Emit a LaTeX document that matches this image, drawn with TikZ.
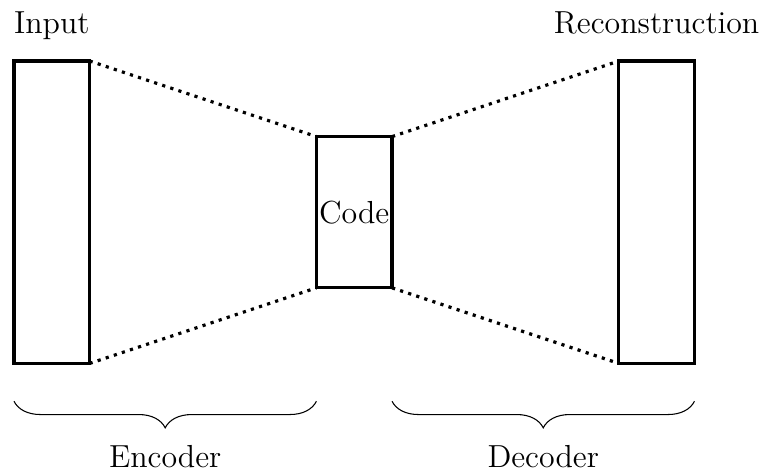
\documentclass[tikz,border=0pt]{standalone}
\usetikzlibrary{decorations.pathreplacing}
\begin{document}
\begin{tikzpicture}[
  layer/.style={draw, very thick, inner sep=0pt, outer sep=0pt, minimum width=1cm, font=\large},
  link/.style={very thick, dotted},
  span/.style={decorate, decoration={brace, mirror, amplitude=10pt}},
  caption/.style={font=\large, anchor=base, inner sep=0pt}
]
\useasboundingbox (-0.185,-1.41) rectangle (9.88,4.807);

% layers of the network
\node[layer, minimum height=4cm] (in) at (0.5,2) {};
\node[layer, minimum height=2cm] (code) at (4.5,2) {Code};
\node[layer, minimum height=4cm] (out) at (8.5,2) {};

% labels above the outer layers
\node[caption] (inlab) at (0.5,4.36) {Input};
\node[caption] (outlab) at (8.5,4.36) {Reconstruction};

% dotted funnel lines
\draw[link] (in.north east) -- (code.north west);
\draw[link] (in.south east) -- (code.south west);
\draw[link] (code.north east) -- (out.north west);
\draw[link] (code.south east) -- (out.south west);

% braces under encoder and decoder
\coordinate (e1) at (0,-0.5);
\coordinate (e2) at (4,-0.5);
\coordinate (d1) at (5,-0.5);
\coordinate (d2) at (9,-0.5);
\draw[span] (e1) -- (e2);
\draw[span] (d1) -- (d2);
\node[caption] (enc) at (2,-1.37) {Encoder};
\node[caption] (dec) at (7,-1.37) {Decoder};
\end{tikzpicture}
\end{document}
